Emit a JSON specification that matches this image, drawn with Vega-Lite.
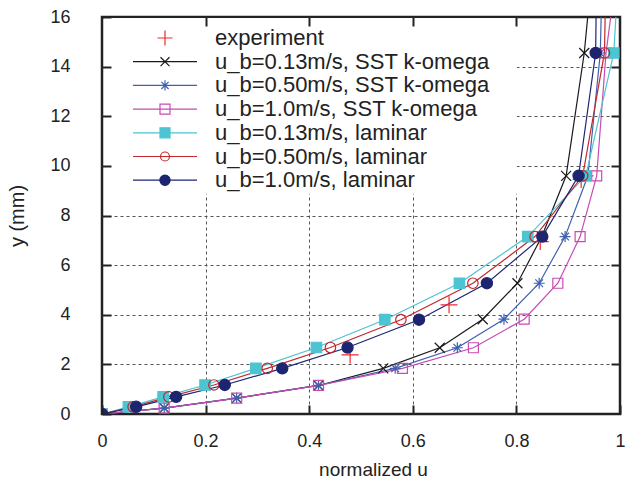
{
  "$schema": "https://vega.github.io/schema/vega-lite/v6.json",
  "width": 518,
  "height": 397,
  "autosize": {"type": "none"},
  "padding": {"left": 102, "top": 17, "right": 10, "bottom": 72},
  "background": "white",
  "config": {
    "view": {"stroke": "#222222", "strokeWidth": 2.5},
    "font": "Liberation Sans",
    "axis": {
      "labelFont": "Liberation Sans", "labelFontSize": 18, "labelColor": "#222222",
      "titleFont": "Liberation Sans", "titleFontSize": 19, "titleFontWeight": "normal", "titleColor": "#222222",
      "tickColor": "#222222", "tickWidth": 2, "labelFlush": false, "labelOverlap": false,
      "gridColor": "#555555", "gridDash": [3, 3], "gridWidth": 1
    }
  },
  "data": {"values": [
    {"s": "experiment", "u": 0.479, "y": 2.38},
    {"s": "experiment", "u": 0.670, "y": 4.4},
    {"s": "experiment", "u": 0.846, "y": 6.95},
    {"s": "experiment", "u": 0.925, "y": 9.45},
    {"s": "u_b=0.13m/s, SST k-omega", "u": 0, "y": 0},
    {"s": "u_b=0.13m/s, SST k-omega", "u": 0.12, "y": 0.24},
    {"s": "u_b=0.13m/s, SST k-omega", "u": 0.26, "y": 0.64},
    {"s": "u_b=0.13m/s, SST k-omega", "u": 0.418, "y": 1.15},
    {"s": "u_b=0.13m/s, SST k-omega", "u": 0.543, "y": 1.84},
    {"s": "u_b=0.13m/s, SST k-omega", "u": 0.652, "y": 2.67},
    {"s": "u_b=0.13m/s, SST k-omega", "u": 0.735, "y": 3.82},
    {"s": "u_b=0.13m/s, SST k-omega", "u": 0.802, "y": 5.27},
    {"s": "u_b=0.13m/s, SST k-omega", "u": 0.849, "y": 7.15},
    {"s": "u_b=0.13m/s, SST k-omega", "u": 0.896, "y": 9.6},
    {"s": "u_b=0.13m/s, SST k-omega", "u": 0.931, "y": 14.55},
    {"s": "u_b=0.13m/s, SST k-omega", "u": 0.956, "y": 20},
    {"s": "u_b=0.50m/s, SST k-omega", "u": 0, "y": 0},
    {"s": "u_b=0.50m/s, SST k-omega", "u": 0.12, "y": 0.24},
    {"s": "u_b=0.50m/s, SST k-omega", "u": 0.26, "y": 0.64},
    {"s": "u_b=0.50m/s, SST k-omega", "u": 0.418, "y": 1.15},
    {"s": "u_b=0.50m/s, SST k-omega", "u": 0.566, "y": 1.84},
    {"s": "u_b=0.50m/s, SST k-omega", "u": 0.686, "y": 2.67},
    {"s": "u_b=0.50m/s, SST k-omega", "u": 0.776, "y": 3.82},
    {"s": "u_b=0.50m/s, SST k-omega", "u": 0.844, "y": 5.27},
    {"s": "u_b=0.50m/s, SST k-omega", "u": 0.894, "y": 7.15},
    {"s": "u_b=0.50m/s, SST k-omega", "u": 0.938, "y": 9.6},
    {"s": "u_b=0.50m/s, SST k-omega", "u": 0.962, "y": 14.55},
    {"s": "u_b=0.50m/s, SST k-omega", "u": 0.968, "y": 20},
    {"s": "u_b=1.0m/s, SST k-omega", "u": 0, "y": 0},
    {"s": "u_b=1.0m/s, SST k-omega", "u": 0.12, "y": 0.24},
    {"s": "u_b=1.0m/s, SST k-omega", "u": 0.26, "y": 0.64},
    {"s": "u_b=1.0m/s, SST k-omega", "u": 0.418, "y": 1.15},
    {"s": "u_b=1.0m/s, SST k-omega", "u": 0.580, "y": 1.84},
    {"s": "u_b=1.0m/s, SST k-omega", "u": 0.717, "y": 2.67},
    {"s": "u_b=1.0m/s, SST k-omega", "u": 0.815, "y": 3.82},
    {"s": "u_b=1.0m/s, SST k-omega", "u": 0.880, "y": 5.27},
    {"s": "u_b=1.0m/s, SST k-omega", "u": 0.923, "y": 7.15},
    {"s": "u_b=1.0m/s, SST k-omega", "u": 0.955, "y": 9.6},
    {"s": "u_b=1.0m/s, SST k-omega", "u": 0.973, "y": 14.55},
    {"s": "u_b=1.0m/s, SST k-omega", "u": 1.007, "y": 20},
    {"s": "u_b=0.13m/s, laminar", "u": 0, "y": 0},
    {"s": "u_b=0.13m/s, laminar", "u": 0.051, "y": 0.29},
    {"s": "u_b=0.13m/s, laminar", "u": 0.118, "y": 0.69},
    {"s": "u_b=0.13m/s, laminar", "u": 0.199, "y": 1.17},
    {"s": "u_b=0.13m/s, laminar", "u": 0.297, "y": 1.84},
    {"s": "u_b=0.13m/s, laminar", "u": 0.414, "y": 2.68},
    {"s": "u_b=0.13m/s, laminar", "u": 0.546, "y": 3.8},
    {"s": "u_b=0.13m/s, laminar", "u": 0.690, "y": 5.27},
    {"s": "u_b=0.13m/s, laminar", "u": 0.822, "y": 7.15},
    {"s": "u_b=0.13m/s, laminar", "u": 0.934, "y": 9.6},
    {"s": "u_b=0.13m/s, laminar", "u": 0.988, "y": 14.55},
    {"s": "u_b=0.13m/s, laminar", "u": 1.003, "y": 20},
    {"s": "u_b=0.50m/s, laminar", "u": 0, "y": 0},
    {"s": "u_b=0.50m/s, laminar", "u": 0.060, "y": 0.29},
    {"s": "u_b=0.50m/s, laminar", "u": 0.129, "y": 0.69},
    {"s": "u_b=0.50m/s, laminar", "u": 0.216, "y": 1.17},
    {"s": "u_b=0.50m/s, laminar", "u": 0.319, "y": 1.84},
    {"s": "u_b=0.50m/s, laminar", "u": 0.441, "y": 2.68},
    {"s": "u_b=0.50m/s, laminar", "u": 0.577, "y": 3.8},
    {"s": "u_b=0.50m/s, laminar", "u": 0.716, "y": 5.27},
    {"s": "u_b=0.50m/s, laminar", "u": 0.836, "y": 7.15},
    {"s": "u_b=0.50m/s, laminar", "u": 0.928, "y": 9.6},
    {"s": "u_b=0.50m/s, laminar", "u": 0.970, "y": 14.55},
    {"s": "u_b=0.50m/s, laminar", "u": 0.975, "y": 20},
    {"s": "u_b=1.0m/s, laminar", "u": 0, "y": 0},
    {"s": "u_b=1.0m/s, laminar", "u": 0.066, "y": 0.29},
    {"s": "u_b=1.0m/s, laminar", "u": 0.143, "y": 0.69},
    {"s": "u_b=1.0m/s, laminar", "u": 0.237, "y": 1.17},
    {"s": "u_b=1.0m/s, laminar", "u": 0.348, "y": 1.84},
    {"s": "u_b=1.0m/s, laminar", "u": 0.474, "y": 2.68},
    {"s": "u_b=1.0m/s, laminar", "u": 0.612, "y": 3.8},
    {"s": "u_b=1.0m/s, laminar", "u": 0.743, "y": 5.27},
    {"s": "u_b=1.0m/s, laminar", "u": 0.850, "y": 7.15},
    {"s": "u_b=1.0m/s, laminar", "u": 0.920, "y": 9.6},
    {"s": "u_b=1.0m/s, laminar", "u": 0.953, "y": 14.55},
    {"s": "u_b=1.0m/s, laminar", "u": 0.956, "y": 20}
  ]},
  "resolve": {"axis": {"x": "independent", "y": "independent"}},
  "layer": [
    {
      "mark": {"type": "rect", "fill": "white", "stroke": null},
      "encoding": {
        "x": {"datum": 0.005, "type": "quantitative", "scale": {"domain": [0, 1], "nice": false, "zero": false},
              "axis": {"orient": "bottom", "values": [0.2, 0.4, 0.6, 0.8], "grid": true, "ticks": false, "labels": false, "domain": false, "title": null, "zindex": 0}},
        "x2": {"datum": 0.8},
        "y": {"datum": 8.9, "type": "quantitative", "scale": {"domain": [0, 16], "nice": false, "zero": false},
              "axis": {"orient": "left", "values": [2, 4, 6, 8, 10, 12, 14], "grid": true, "ticks": false, "labels": false, "domain": false, "title": null, "zindex": 0}},
        "y2": {"datum": 15.93}
      }
    },
    {
      "transform": [{"filter": "datum.s !== 'experiment'"}],
      "mark": {"type": "line", "strokeWidth": 1.2, "clip": true},
      "encoding": {
        "x": {"field": "u", "type": "quantitative", "scale": {"domain": [0, 1], "nice": false, "zero": false},
              "axis": {"orient": "bottom", "values": [0, 0.2, 0.4, 0.6, 0.8, 1], "format": "~g", "grid": false, "domain": false, "tickSize": -9, "labelPadding": 27, "title": "normalized u", "titleX": 271, "titlePadding": 10, "zindex": 1}},
        "y": {"field": "y", "type": "quantitative", "scale": {"domain": [0, 16], "nice": false, "zero": false},
              "axis": {"orient": "left", "values": [0, 2, 4, 6, 8, 10, 12, 14, 16], "format": "d", "grid": false, "domain": false, "tickSize": -9, "labelPadding": 41, "title": "y (mm)", "titleFontSize": 20, "titlePadding": 22, "zindex": 1}},
        "order": {"field": "y", "type": "quantitative"},
        "stroke": {
          "field": "s", "type": "nominal",
          "scale": {
            "domain": ["experiment", "u_b=0.13m/s, SST k-omega", "u_b=0.50m/s, SST k-omega", "u_b=1.0m/s, SST k-omega", "u_b=0.13m/s, laminar", "u_b=0.50m/s, laminar", "u_b=1.0m/s, laminar"],
            "range": ["#ee2a2f", "#1a1a1a", "#3f5fb0", "#c84bb2", "#4cc4d1", "#c1272d", "#1d2570"]
          },
          "legend": {
            "orient": "none", "legendX": 52, "legendY": 10, "title": null, "padding": 0,
            "symbolSize": 256, "symbolStrokeWidth": 1.2, "symbolOffset": 0,
            "labelFont": "Liberation Sans", "labelFontSize": 22, "labelColor": "#222222", "labelOffset": 39,
            "rowPadding": 1.7, "labelLimit": 400,
            "encode": {"symbols": {"update": {
              "shape": {"signal": "['M-0.94,0H0.94M0,-0.94V0.94', 'M-4,0H4M-0.56,-0.56L0.56,0.56M-0.56,0.56L0.56,-0.56', 'M-4,0H4M0,-0.64V0.64M-0.45,-0.45L0.45,0.45M-0.45,0.45L0.45,-0.45', 'M-4,0H4M-0.625,-0.625H0.625V0.625H-0.625Z', 'M-4,0H4M-0.625,-0.625H0.625V0.625H-0.625Z', 'M-4,0H4M0.56,0A0.56,0.56 0 1,1 -0.56,0A0.56,0.56 0 1,1 0.56,0Z', 'M-4,0H4M0.64,0A0.64,0.64 0 1,1 -0.64,0A0.64,0.64 0 1,1 0.64,0Z'][datum.index]"},
              "fill": {"signal": "['transparent', 'transparent', 'transparent', 'transparent', '#4cc4d1', 'transparent', '#1d2570'][datum.index]"},
              "size": {"value": 256},
              "strokeWidth": {"value": 1.2}
            }}}
          }
        }
      }
    },
    {
      "mark": {"type": "point", "strokeWidth": 1.2, "opacity": 1, "clip": true},
      "encoding": {
        "x": {"field": "u", "type": "quantitative", "scale": {"domain": [0, 1], "nice": false, "zero": false},
              "axis": {"orient": "top", "values": [0.2, 0.4, 0.6, 0.8], "grid": false, "domain": false, "labels": false, "tickSize": -9, "title": null, "zindex": 1}},
        "y": {"field": "y", "type": "quantitative", "scale": {"domain": [0, 16], "nice": false, "zero": false},
              "axis": {"orient": "right", "values": [2, 4, 6, 8, 10, 12, 14], "grid": false, "domain": false, "labels": false, "tickSize": -9, "title": null, "zindex": 1}},
        "stroke": {"field": "s", "type": "nominal"},
        "shape": {
          "condition": [
            {"test": "datum.s === 'experiment'", "value": "M-1,0H1M0,-1V1"},
            {"test": "datum.s === 'u_b=0.13m/s, SST k-omega'", "value": "M-1,-1L1,1M-1,1L1,-1"},
            {"test": "datum.s === 'u_b=0.50m/s, SST k-omega'", "value": "M-1,0H1M0,-1V1M-0.7,-0.7L0.7,0.7M-0.7,0.7L0.7,-0.7"},
            {"test": "datum.s === 'u_b=1.0m/s, SST k-omega' || datum.s === 'u_b=0.13m/s, laminar'", "value": "square"}
          ],
          "value": "circle"
        },
        "fill": {
          "condition": [
            {"test": "datum.s === 'u_b=0.13m/s, laminar'", "value": "#4cc4d1"},
            {"test": "datum.s === 'u_b=1.0m/s, laminar'", "value": "#1d2570"}
          ],
          "value": "transparent"
        },
        "size": {
          "condition": [
            {"test": "datum.s === 'experiment'", "value": 289},
            {"test": "datum.s === 'u_b=0.50m/s, SST k-omega'", "value": 121},
            {"test": "datum.s === 'u_b=1.0m/s, laminar'", "value": 125},
            {"test": "datum.s === 'u_b=0.13m/s, laminar' || datum.s === 'u_b=0.50m/s, laminar'", "value": 110}
          ],
          "value": 100
        }
      }
    }
  ]
}
